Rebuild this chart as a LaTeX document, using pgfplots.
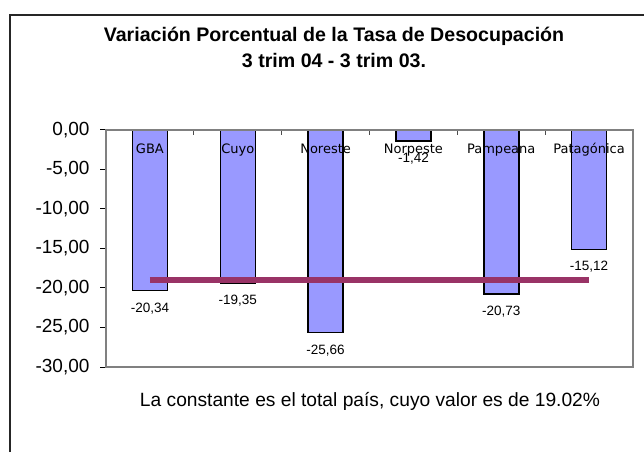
\documentclass[border=0pt]{standalone}
\usepackage{pgfplots}
\pgfplotsset{compat=1.18}
\usepackage{fontspec}
\setmainfont{Liberation Sans}
\newfontfamily\dejavu{DejaVu Sans}
\definecolor{barblue}{HTML}{9999FF}
\definecolor{constline}{HTML}{993366}
\definecolor{boxgray}{HTML}{808080}
\begin{document}
\begin{tikzpicture}
\useasboundingbox (0pt,0pt) rectangle (644pt,452pt);
\draw[line width=1.5pt, black!85] (10pt,0pt) -- (10pt,437pt) -- (645pt,437pt);
\node[font=\fontsize{19.6}{23}\selectfont\bfseries, anchor=base] at (334pt,410pt) {Variación Porcentual de la Tasa de Desocupación};
\node[font=\fontsize{19.6}{23}\selectfont\bfseries, anchor=base] at (334pt,384.5pt) {3 trim 04 - 3 trim 03.};
\node[font=\fontsize{19.2}{23}\selectfont, anchor=base] at (370pt,46pt) {La constante es el total país, cuyo valor es de 19.02\%};
\begin{axis}[
  at={(106pt,85pt)}, anchor=south west,
  scale only axis, width=527pt, height=237pt,
  xmin=-0.5, xmax=5.5, ymin=-30, ymax=0,
  axis on top,
  axis line style={boxgray, line width=1.2pt},
  xtick={0,1,2,3,4,5},
  xticklabels={GBA,Cuyo,Noreste,Norpeste,Pampeana,Patagónica},
  minor xtick={0.5,1.5,2.5,3.5,4.5},
  minor tick length=5pt,
  minor x tick style={black!70, line width=1pt, yshift=-5pt},
  xticklabel pos=upper, xtick pos=upper,
  major x tick style={draw=none},
  xticklabel style={font=\dejavu\fontsize{13}{15}\selectfont, anchor=base, yshift=-30pt, inner sep=0pt},
  ytick={-30,-25,-20,-15,-10,-5,0},
  ytick pos=left, tick align=outside, major tick length=6pt,
  y tick style={black, line width=1pt},
  yticklabel style={font=\fontsize{19}{23}\selectfont, xshift=-7pt},
  y tick label style={/pgf/number format/fixed, /pgf/number format/fixed zerofill, /pgf/number format/precision=2, /pgf/number format/use comma, /pgf/number format/assume math mode=true},
]
\addplot[ybar, bar width=35pt, fill=barblue, draw=black, line width=1.5pt,
  nodes near coords,
  nodes near coords style={font=\fontsize{13.5}{15}\selectfont, black, yshift=-8pt, /pgf/number format/fixed, /pgf/number format/fixed zerofill, /pgf/number format/precision=2, /pgf/number format/use comma, /pgf/number format/assume math mode=true},
  ]
  coordinates {(0,-20.34) (1,-19.35) (2,-25.66) (3,-1.42) (4,-20.73) (5,-15.12)};
\addplot[constline, line width=6pt, mark=none] coordinates {(0,-19.02) (5,-19.02)};
\draw[black, line width=1.5pt] (rel axis cs:0,0) -- (rel axis cs:0,1);
\end{axis}
\end{tikzpicture}
\end{document}
